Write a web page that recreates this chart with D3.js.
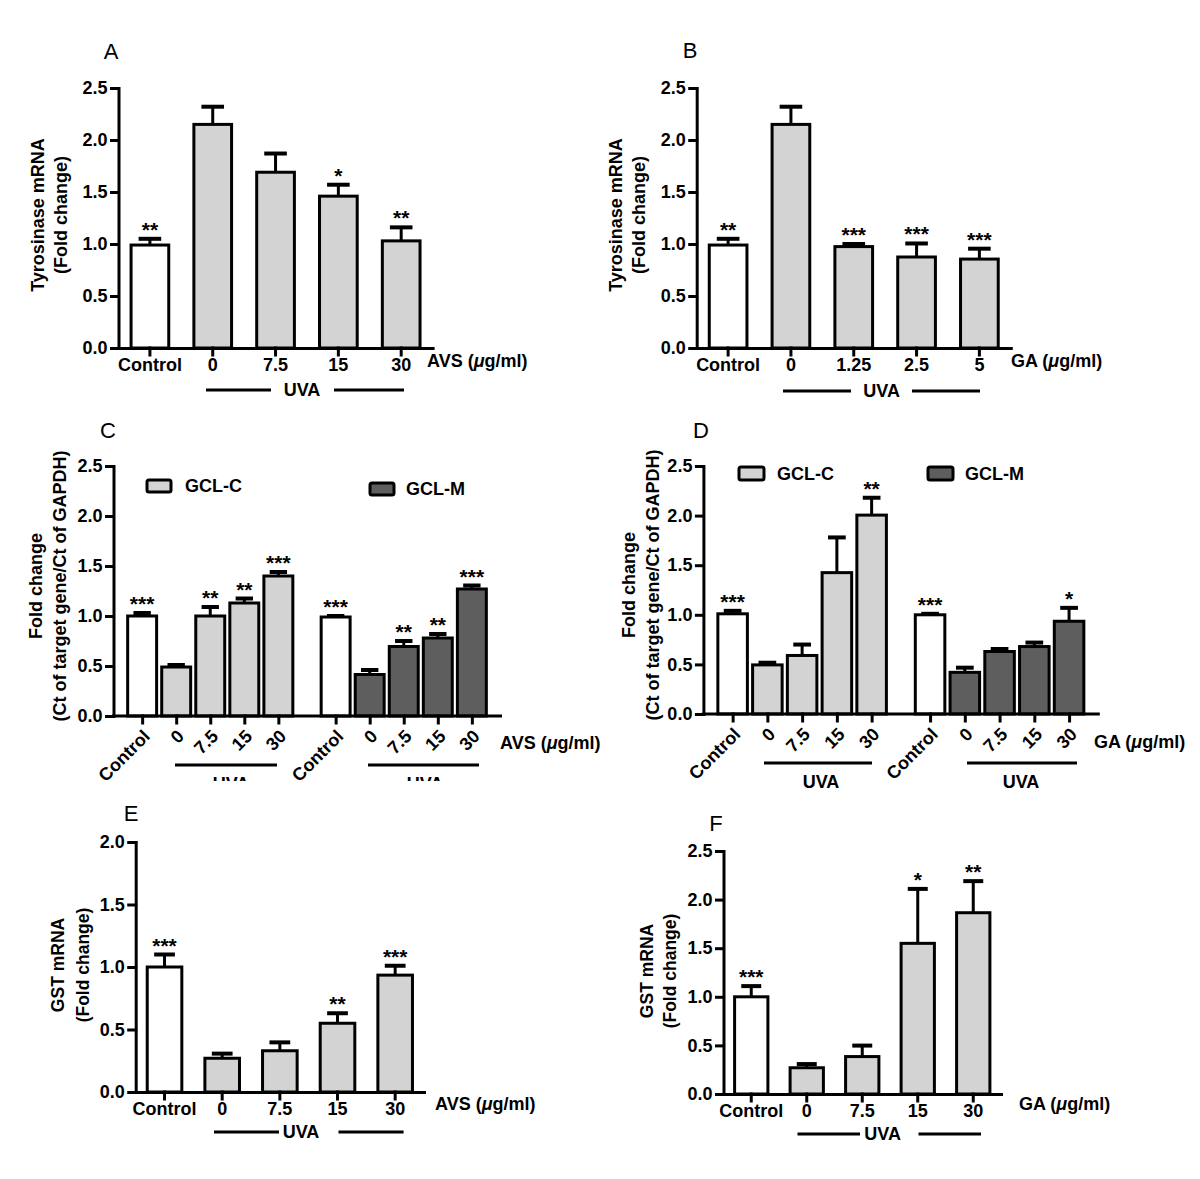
<!DOCTYPE html>
<html><head><meta charset="utf-8">
<script src="https://cdn.jsdelivr.net/npm/d3@7"></script>
<style>
body{margin:0;background:#fff;}
svg text{font-family:"Liberation Sans",Arial,sans-serif;fill:#000;}
</style></head><body>
<svg id="chart" width="1200" height="1179"></svg>
<script>
// ---------------- DATA ----------------
const catsA = ["Control","0","7.5","15","30"];
const meanA = [0.99, 2.15, 1.69, 1.46, 1.03];
const semA  = [0.06, 0.17, 0.18, 0.11, 0.13];
const starsA = ["**","","","*","**"];

const catsB = ["Control","0","1.25","2.5","5"];
const meanB = [0.99, 2.15, 0.975, 0.875, 0.855];
const semB  = [0.06, 0.17, 0.025, 0.13, 0.10];
const starsB = ["**","","***","***","***"];

const catsC = ["Control","0","7.5","15","30"];
const gclcC = [1.00, 0.49, 1.00, 1.13, 1.40];
const gclcCsem = [0.03, 0.02, 0.09, 0.045, 0.04];
const gclmC = [0.99, 0.415, 0.695, 0.78, 1.27];
const gclmCsem = [0.01, 0.045, 0.055, 0.04, 0.035];
const starsCc = ["***","","**","**","***"];
const starsCm = ["***","","**","**","***"];

const catsD = ["Control","0","7.5","15","30"];
const gclcD = [1.01, 0.495, 0.59, 1.425, 2.005];
const gclcDsem = [0.03, 0.022, 0.11, 0.355, 0.175];
const gclmD = [1.00, 0.42, 0.63, 0.68, 0.935];
const gclmDsem = [0.01, 0.047, 0.025, 0.04, 0.135];
const starsDc = ["***","","","","**"];
const starsDm = ["***","","","","*"];

const catsE = ["Control","0","7.5","15","30"];
const meanE = [1.00, 0.27, 0.33, 0.55, 0.935];
const semE  = [0.10, 0.037, 0.067, 0.08, 0.075];
const starsE = ["***","","","**","***"];

const catsF = ["Control","0","7.5","15","30"];
const meanF = [1.00, 0.27, 0.385, 1.55, 1.865];
const semF  = [0.11, 0.038, 0.113, 0.56, 0.325];
const starsF = ["***","","","*","**"];

const ticks25 = [0, 0.5, 1.0, 1.5, 2.0, 2.5];
const ticks20 = [0, 0.5, 1.0, 1.5, 2.0];
const groups = ["GCL-C","GCL-M"];

// ---------------- STYLE ----------------
const WHITE = "#ffffff", LIGHT = "#d3d3d3", DARK = "#5e5e5e";
const FONT = '"Liberation Sans", Arial, sans-serif';
const svg = d3.select("#chart");

function styleAxis(sel, fs) {
  sel.attr("font-family", FONT).attr("font-size", fs).attr("font-weight", "bold");
  sel.selectAll("path, line").attr("stroke", "#000").attr("stroke-width", 3).attr("stroke-linecap", "square");
  sel.selectAll("text").attr("fill", "#000");
}

function unitLabel(g, pre, x, y) {
  const t = g.append("text").attr("x", x).attr("y", y).attr("dy", ".35em")
    .attr("font-size", 18).attr("font-weight", "bold");
  t.append("tspan").text(pre + " (");
  t.append("tspan").attr("font-style", "italic").text("\u03bc");
  t.append("tspan").text("g/ml)");
}

function yLabel(g, lines, xs, yc, fs) {
  lines.forEach((l, i) => {
    g.append("text").attr("transform", `translate(${xs[i]},${yc}) rotate(-90)`)
      .attr("text-anchor", "middle").attr("dy", ".35em")
      .attr("font-size", fs).attr("font-weight", "bold").text(l);
  });
}

function letter(g, t, x, y) {
  g.append("text").attr("x", x).attr("y", y).attr("dy", ".35em").attr("text-anchor", "middle")
    .attr("font-size", 22).text(t);
}

function uva(g, u) {
  g.append("line").attr("x1", u.a).attr("x2", u.b).attr("y1", u.y).attr("y2", u.y)
    .attr("stroke", "#000").attr("stroke-width", 3);
  g.append("line").attr("x1", u.c).attr("x2", u.d).attr("y1", u.y).attr("y2", u.y)
    .attr("stroke", "#000").attr("stroke-width", 3);
  g.append("text").attr("x", u.t).attr("y", u.y).attr("dy", ".35em").attr("text-anchor", "middle")
    .attr("font-size", 18).attr("font-weight", "bold").text("UVA");
}

function drawBars(g, data, cx, bw, y, y0) {
  data.forEach(d => {
    const c = cx(d), top = y(d.m + d.s), hw = bw * 0.3;
    g.append("line").attr("x1", c).attr("x2", c).attr("y1", y(d.m)).attr("y2", top)
      .attr("stroke", "#000").attr("stroke-width", 3);
    g.append("line").attr("x1", c - hw).attr("x2", c + hw).attr("y1", top).attr("y2", top)
      .attr("stroke", "#000").attr("stroke-width", 4);
    if (d.st) {
      g.append("text").attr("x", c).attr("y", top - 2).attr("text-anchor", "middle")
        .attr("font-size", 21).attr("font-weight", "bold").text(d.st);
    }
  });
  g.selectAll(null).data(data).join("rect")
    .attr("x", d => cx(d) - bw / 2).attr("width", bw)
    .attr("y", d => y(d.m)).attr("height", d => y0 - y(d.m))
    .attr("fill", d => d.fill).attr("stroke", "#000").attr("stroke-width", 3);
}

function drawSimple(cfg) {
  const g = svg.append("g");
  const x = d3.scaleBand().domain(cfg.cats).range([cfg.x0, cfg.x1]).paddingInner(0.4).paddingOuter(0.2);
  const y = d3.scaleLinear().domain([0, cfg.yMax]).range([cfg.y0, cfg.yTop]);
  const data = cfg.cats.map((c, i) => ({ c, m: cfg.means[i], s: cfg.sems[i], st: cfg.stars[i], fill: i === 0 ? WHITE : LIGHT }));
  drawBars(g, data, d => x(d.c) + x.bandwidth() / 2, x.bandwidth(), y, cfg.y0);
  const ya = g.append("g").attr("transform", `translate(${cfg.x0},0)`)
    .call(d3.axisLeft(y).tickValues(cfg.ticks).tickFormat(d3.format(".1f")).tickSize(7).tickPadding(4).tickSizeOuter(0));
  styleAxis(ya, 18);
  const xa = g.append("g").attr("transform", `translate(0,${cfg.y0})`)
    .call(d3.axisBottom(x).tickSize(7).tickPadding(3).tickSizeOuter(0));
  styleAxis(xa, 18);
  yLabel(g, cfg.ylab, cfg.lx, cfg.ly, cfg.yfs);
  letter(g, cfg.letter, cfg.lpos[0], cfg.lpos[1]);
  unitLabel(g, cfg.unit, cfg.ux, cfg.uy);
  uva(g, cfg.uva);
}

function drawGrouped(cfg) {
  const g = svg.append("g");
  const outer = d3.scaleBand().domain(groups).range([cfg.x0, cfg.x1]).paddingInner(0.12).paddingOuter(0.06);
  const inner = d3.scaleBand().domain(cfg.cats).range([0, outer.bandwidth()]).paddingInner(0.15).paddingOuter(0.075);
  const y = d3.scaleLinear().domain([0, 2.5]).range([cfg.y0, cfg.yTop]);
  const series = [cfg.gc, cfg.gm], sems = [cfg.gcs, cfg.gms], stars = [cfg.sc, cfg.sm];
  const data = [];
  groups.forEach((gr, gi) => cfg.cats.forEach((c, i) => data.push({
    key: gr + "|" + c, g: gr, c, m: series[gi][i], s: sems[gi][i], st: stars[gi][i],
    fill: i === 0 ? WHITE : (gi === 0 ? LIGHT : DARK)
  })));
  const cx = d => outer(d.g) + inner(d.c) + inner.bandwidth() / 2;
  drawBars(g, data, cx, inner.bandwidth(), y, cfg.y0);
  const ya = g.append("g").attr("transform", `translate(${cfg.x0},0)`)
    .call(d3.axisLeft(y).tickValues(ticks25).tickFormat(d3.format(".1f")).tickSize(7).tickPadding(4).tickSizeOuter(0));
  styleAxis(ya, 18);
  const xs = d3.scaleOrdinal().domain(data.map(d => d.key)).range(data.map(cx));
  const xa = g.append("g").attr("transform", `translate(0,${cfg.y0})`)
    .call(d3.axisBottom(xs).tickSize(7).tickSizeOuter(0).tickFormat(k => k.split("|")[1]));
  xa.select(".domain").remove();
  xa.append("line").attr("x1", cfg.x0).attr("x2", cfg.x1).attr("y1", 0).attr("y2", 0);
  styleAxis(xa, 18);
  xa.selectAll(".tick text").attr("x", 0).attr("y", 0).attr("dy", ".35em")
    .attr("text-anchor", "end").attr("transform", "translate(4,17) rotate(-45)");
  cfg.legend.forEach((l, i) => {
    g.append("rect").attr("x", l.bx).attr("y", l.by).attr("width", l.bw).attr("height", l.bh).attr("rx", 2)
      .attr("fill", i === 0 ? LIGHT : DARK).attr("stroke", "#000").attr("stroke-width", 3);
    g.append("text").attr("x", l.tx).attr("y", l.ty).attr("dy", ".35em")
      .attr("font-size", 18).attr("font-weight", "bold").text(groups[i]);
  });
  yLabel(g, ["Fold change", "(Ct of target gene/Ct of GAPDH)"], cfg.lx, cfg.ly, 18);
  letter(g, cfg.letter, cfg.lpos[0], cfg.lpos[1]);
  unitLabel(g, cfg.unit, cfg.ux, cfg.uy);
  const ug = g.append("g");
  if (cfg.clipY) {
    const id = "clip" + cfg.letter;
    svg.append("clipPath").attr("id", id).append("rect").attr("x", 0).attr("y", 0).attr("width", 1200).attr("height", cfg.clipY);
    ug.attr("clip-path", `url(#${id})`);
  }
  cfg.uvas.forEach(u => {
    ug.append("line").attr("x1", u.a).attr("x2", u.b).attr("y1", u.y).attr("y2", u.y)
      .attr("stroke", "#000").attr("stroke-width", 3);
    ug.append("text").attr("x", u.t).attr("y", u.ty).attr("dy", ".35em").attr("text-anchor", "middle")
      .attr("font-size", 18).attr("font-weight", "bold").text("UVA");
  });
}

// ---------------- PANELS ----------------
drawSimple({ cats: catsA, means: meanA, sems: semA, stars: starsA, ticks: ticks25,
  x0: 118.5, x1: 432.6, y0: 348, yTop: 88, yMax: 2.5,
  ylab: ["Tyrosinase mRNA", "(Fold change)"], lx: [38, 61], ly: 215, yfs: 18,
  letter: "A", lpos: [111, 51], unit: "AVS", ux: 427, uy: 361,
  uva: { a: 206, b: 271, t: 302, c: 334, d: 404, y: 390 } });

drawSimple({ cats: catsB, means: meanB, sems: semB, stars: starsB, ticks: ticks25,
  x0: 696.7, x1: 1010.8, y0: 348, yTop: 88, yMax: 2.5,
  ylab: ["Tyrosinase mRNA", "(Fold change)"], lx: [616, 639], ly: 215, yfs: 18,
  letter: "B", lpos: [690, 50], unit: "GA", ux: 1011, uy: 361,
  uva: { a: 783, b: 851, t: 881.6, c: 912, d: 980, y: 391 } });

drawGrouped({ cats: catsC, gc: gclcC, gcs: gclcCsem, gm: gclmC, gms: gclmCsem, sc: starsCc, sm: starsCm,
  x0: 113.5, x1: 500.5, y0: 716, yTop: 466,
  lx: [36, 60], ly: 586, letter: "C", lpos: [108, 430], unit: "AVS", ux: 500, uy: 743,
  legend: [{ bx: 147, by: 480, bw: 24, bh: 12, tx: 185, ty: 486 }, { bx: 370, by: 483, bw: 24, bh: 12, tx: 406, ty: 489 }],
  uvas: [{ a: 175, b: 277, y: 765, t: 231, ty: 784 }, { a: 368, b: 479, y: 765, t: 425, ty: 784 }],
  clipY: 781 });

drawGrouped({ cats: catsD, gc: gclcD, gcs: gclcDsem, gm: gclmD, gms: gclmDsem, sc: starsDc, sm: starsDm,
  x0: 703.4, x1: 1098.3, y0: 714, yTop: 466,
  lx: [629, 653], ly: 585, letter: "D", lpos: [701, 430], unit: "GA", ux: 1094, uy: 742,
  legend: [{ bx: 739, by: 467, bw: 25, bh: 13, tx: 777, ty: 473.5 }, { bx: 928, by: 467, bw: 25, bh: 13, tx: 965, ty: 473.5 }],
  uvas: [{ a: 764, b: 872, y: 763, t: 821, ty: 782 }, { a: 967, b: 1077, y: 763, t: 1021, ty: 782 }],
  clipY: null });

drawSimple({ cats: catsE, means: meanE, sems: semE, stars: starsE, ticks: ticks20,
  x0: 135.7, x1: 424, y0: 1092, yTop: 842, yMax: 2.0,
  ylab: ["GST mRNA", "(Fold change)"], lx: [58, 83], ly: 965, yfs: 17.5,
  letter: "E", lpos: [131, 813], unit: "AVS", ux: 435, uy: 1104,
  uva: { a: 214, b: 279, t: 301, c: 338.5, d: 403.6, y: 1132 } });

drawSimple({ cats: catsF, means: meanF, sems: semF, stars: starsF, ticks: ticks25,
  x0: 723.5, x1: 1001, y0: 1094, yTop: 851, yMax: 2.5,
  ylab: ["GST mRNA", "(Fold change)"], lx: [647, 670], ly: 971, yfs: 17.5,
  letter: "F", lpos: [716, 823], unit: "GA", ux: 1019, uy: 1104,
  uva: { a: 797.5, b: 860, t: 882.6, c: 918.5, d: 981, y: 1134 } });
</script>
</body></html>
